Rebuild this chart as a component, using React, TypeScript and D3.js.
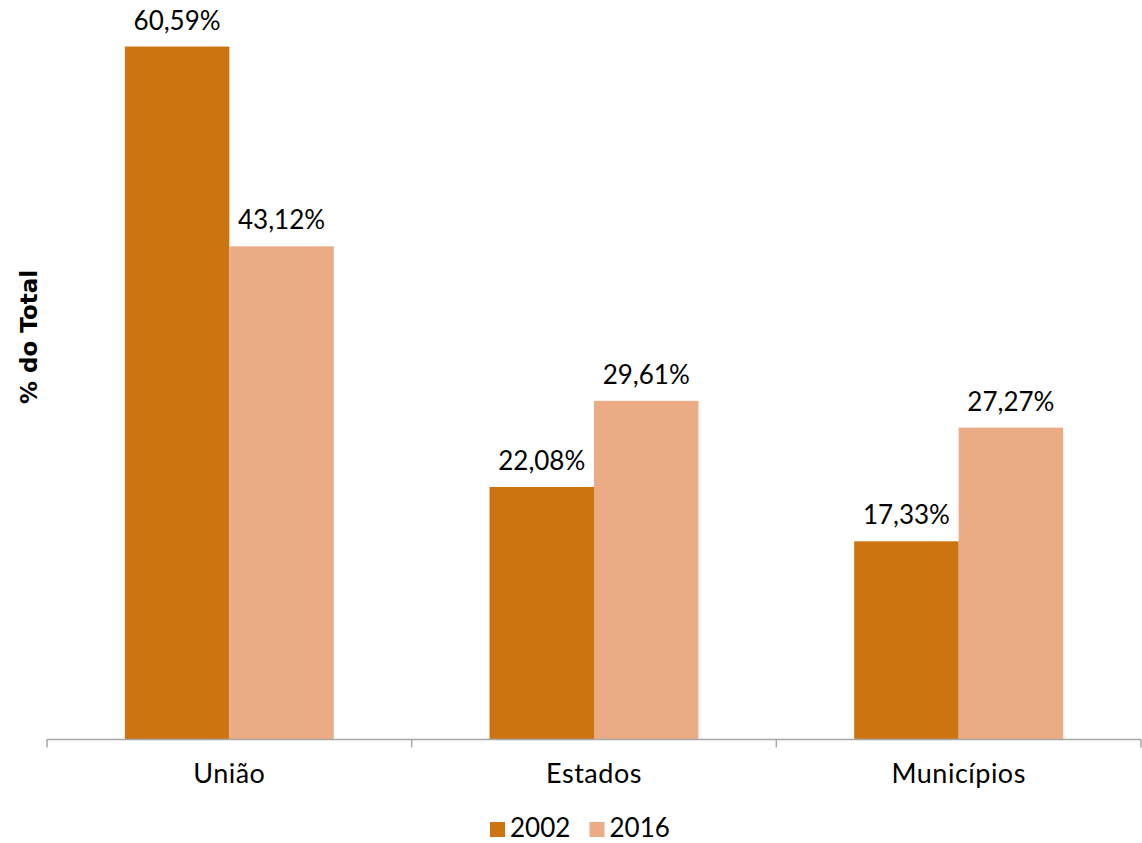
import React from "react";
import * as d3 from "d3";

const categories = ["União", "Estados", "Municípios"];
const series = ["2002", "2016"];
const values2002 = [60.59, 22.08, 17.33];
const values2016 = [43.12, 29.61, 27.27];
const colors = ["#CC7411", "#EBAC85"];

const W = 1142;
const H = 843;
const FONT = "Lato, 'Open Sans', sans-serif";

export default function App() {
  const left = 47;
  const right = 1141;
  const baseY = 739.5;
  const x0 = d3.scaleBand<string>().domain(categories).range([left, right]).padding(0);
  const groupW = x0.bandwidth() * 0.573;
  const x1 = d3.scaleBand<string>().domain(series).range([0, groupW]).padding(0);
  const y = d3.scaleLinear().domain([0, 64]).range([baseY, baseY - 64 * 11.437]);
  const fmt = (v: number) => v.toFixed(2).replace(".", ",") + "%";
  const data = categories.map((c, i) => ({ c, vals: [values2002[i], values2016[i]] }));

  return (
    <svg width={W} height={H} style={{ position: "absolute", left: 0, top: 0, background: "#fff" }}>
      {data.map((d) => {
        const gx = (x0(d.c) as number) + (x0.bandwidth() - groupW) / 2;
        return (
          <g key={d.c} transform={`translate(${gx},0)`}>
            {d.vals.map((v, j) => {
              const bx = x1(series[j]) as number;
              return (
                <g key={j}>
                  <rect x={bx} y={y(v)} width={x1.bandwidth()} height={baseY - y(v)} fill={colors[j]} />
                  <text x={bx + x1.bandwidth() / 2} y={y(v) - 17} textAnchor="middle" fontFamily={FONT} fontSize={26} fill="#000">
                    {fmt(v)}
                  </text>
                </g>
              );
            })}
          </g>
        );
      })}
      <line x1={left} x2={right} y1={baseY} y2={baseY} stroke="#A6A6A6" strokeWidth={1.5} />
      {[...categories.map((c) => x0(c) as number), right].map((t, i) => (
        <line key={i} x1={t} x2={t} y1={baseY} y2={baseY + 8} stroke="#A6A6A6" strokeWidth={1.5} />
      ))}
      {categories.map((c) => (
        <text key={c} x={(x0(c) as number) + x0.bandwidth() / 2} y={783} textAnchor="middle" fontFamily={FONT} fontSize={27} letterSpacing={0.5} fill="#000">
          {c}
        </text>
      ))}
      <text transform={`translate(37,337) rotate(-90)`} textAnchor="middle" fontFamily="'DejaVu Sans', sans-serif" fontSize={23} fontWeight="bold" fill="#000">
        % do Total
      </text>
      {series.map((s, i) => (
        <g key={s} transform={`translate(${490 + i * 99.5},0)`}>
          <rect x={0} y={822} width={15} height={15} fill={colors[i]} />
          <text x={20} y={837} fontFamily={FONT} fontSize={26} fill="#000">{s}</text>
        </g>
      ))}
    </svg>
  );
}
